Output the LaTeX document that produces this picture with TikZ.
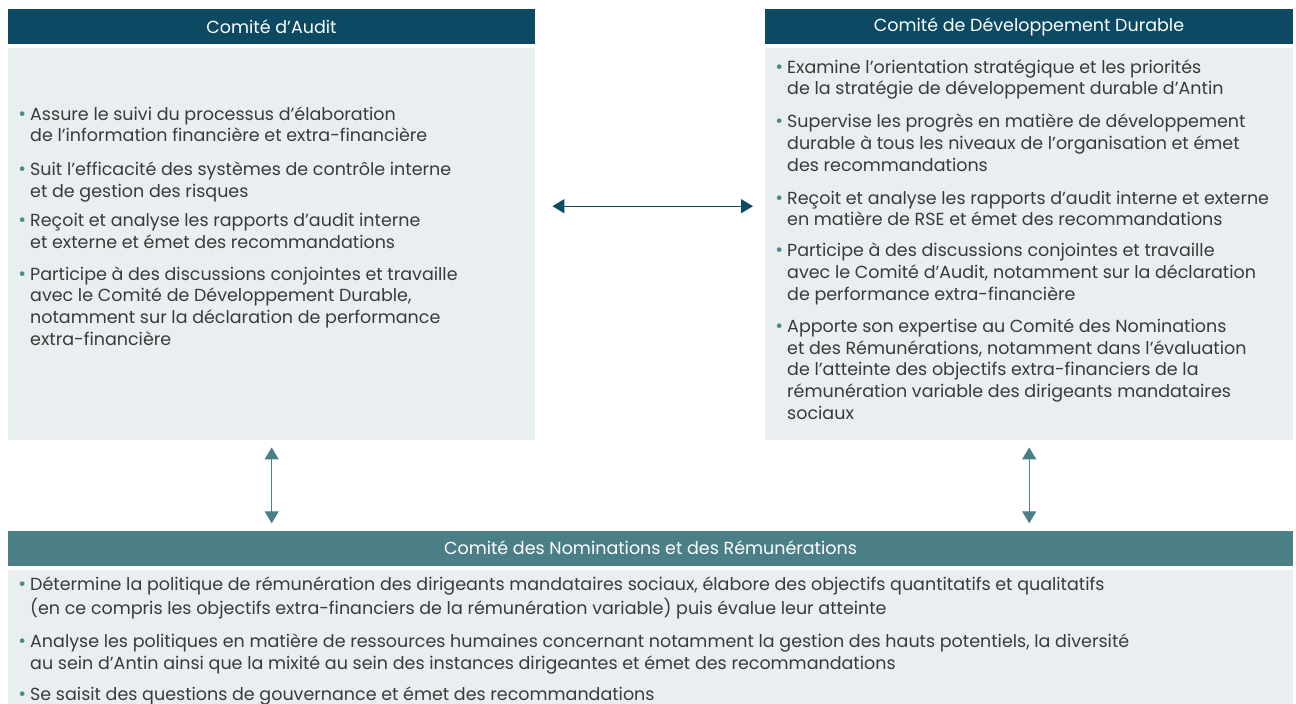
\documentclass[tikz,border=0pt]{standalone}
\usepackage{fontspec}
\setmainfont{Poppins}
\usetikzlibrary{arrows.meta}
\definecolor{hdblue}{HTML}{0C4A63}
\definecolor{hdteal}{HTML}{4B7F88}
\definecolor{boxgray}{HTML}{E9EEF0}
\definecolor{txtgray}{HTML}{3A3A3A}
\definecolor{dotteal}{HTML}{4B8A8F}
\newcommand{\bul}{\makebox[0pt][r]{\textcolor{dotteal}{\fontsize{19}{19}\selectfont •}\hspace{4pt}}}
\tikzset{
  header/.style={inner sep=0, minimum height=35, text=white, font=\fontsize{17.5}{20}\selectfont},
  body/.style={fill=boxgray, inner sep=0, anchor=north west},
  items/.style={anchor=north west, inner sep=0, align=left, text=txtgray, font=\fontsize{17.5}{21.7}\selectfont},
  link/.style={line width=1.2pt, {Triangle[width=14pt,length=12pt]}-{Triangle[width=14pt,length=12pt]}}
}
\begin{document}
\begin{tikzpicture}[x=1pt, y=-1pt]
  \useasboundingbox (0,0) rectangle (1296,704);
  % the three committees
  \node[body, minimum width=527, minimum height=392] (audit) at (8,48) {};
  \node[body, minimum width=528, minimum height=392] (durable) at (765,48) {};
  \node[body, minimum width=1285, minimum height=134] (nomin) at (8,570) {};
  \node[header, fill=hdblue, minimum width=527] (audithd) at (271.5,26.5) {Comité d'Audit};
  \node[header, fill=hdblue, minimum width=528] (durablehd) at (1029,26.5) {Comité de Développement Durable};
  \node[header, fill=hdteal, minimum width=1285] (nominhd) at (650.5,548) {Comité des Nominations et des Rémunérations};

  \node[items] (auditlist) at (30,104.8) {%
    \strut\bul Assure le suivi du processus d'élaboration\\
    de l'information financière et extra-financière\\[12.3pt]
    \bul Suit l'efficacité des systèmes de contrôle interne\\
    et de gestion des risques\\[7.3pt]
    \bul Reçoit et analyse les rapports d'audit interne\\
    et externe et émet des recommandations\\[10.3pt]
    \bul Participe à des discussions conjointes et travaille\\
    avec le Comité de Développement Durable,\\
    notamment sur la déclaration de performance\\
    extra-financière};

  \node[items] (durablelist) at (787,57.8) {%
    \strut\bul Examine l'orientation stratégique et les priorités\\
    de la stratégie de développement durable d'Antin\\[11.3pt]
    \bul Supervise les progrès en matière de développement\\
    durable à tous les niveaux de l'organisation et émet\\
    des recommandations\\[11.3pt]
    \bul Reçoit et analyse les rapports d'audit interne et externe\\
    en matière de RSE et émet des recommandations\\[9.3pt]
    \bul Participe à des discussions conjointes et travaille\\
    avec le Comité d'Audit, notamment sur la déclaration\\
    de performance extra-financière\\[10.3pt]
    \bul Apporte son expertise au Comité des Nominations\\
    et des Rémunérations, notamment dans l'évaluation\\
    de l'atteinte des objectifs extra-financiers de la\\
    rémunération variable des dirigeants mandataires\\
    sociaux};

  \node[items] (nominlist) at (30,574.8) {%
    \strut\bul Détermine la politique de rémunération des dirigeants mandataires sociaux, élabore des objectifs quantitatifs et qualitatifs\\
    (en ce compris les objectifs extra-financiers de la rémunération variable) puis évalue leur atteinte\\[12pt]
    \bul Analyse les politiques en matière de ressources humaines concernant notamment la gestion des hauts potentiels, la diversité\\
    au sein d'Antin ainsi que la mixité au sein des instances dirigeantes et émet des recommandations\\[9.5pt]
    \bul Se saisit des questions de gouvernance et émet des recommandations};

  % links
  \draw[link, hdblue, shorten <=17pt, shorten >=12pt] ([yshift=38pt]audit.east) -- ([yshift=38pt]durable.west);
  \draw[link, hdteal, shorten <=7pt, shorten >=7pt] (audit.south) -- (audit.south |- nominhd.north);
  \draw[link, hdteal, shorten <=7pt, shorten >=7pt] (durable.south) -- (durable.south |- nominhd.north);
\end{tikzpicture}
\end{document}
